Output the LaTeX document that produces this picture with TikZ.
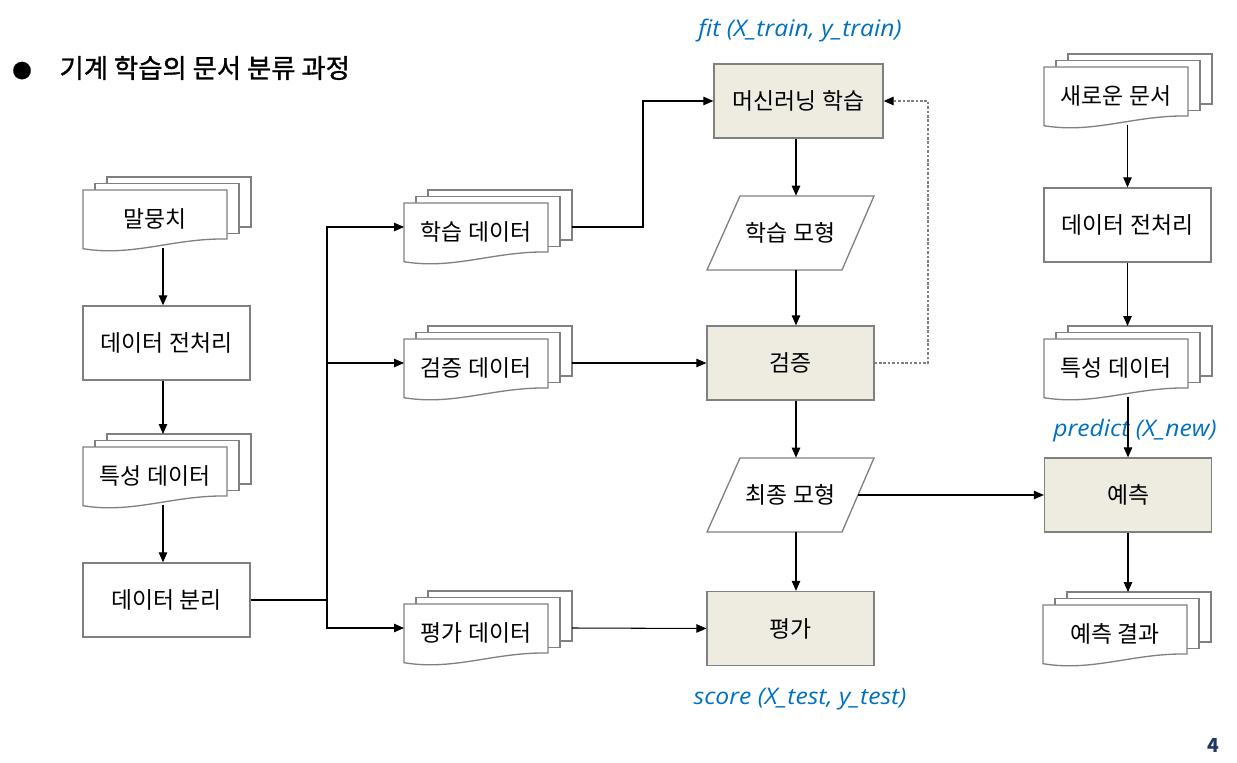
\documentclass[tikz,border=0pt]{standalone}
\usepackage{fontspec}
\setmainfont{Noto Sans CJK KR}
\newfontfamily\titlefont[FakeBold=1.2]{Noto Sans CJK KR}
\newfontfamily\codefont[FakeStretch=1.08]{Open Sans}
\usetikzlibrary{arrows.meta}

\definecolor{boxgray}{HTML}{808080}
\definecolor{boxfill}{HTML}{EEECE1}
\definecolor{codeblue}{HTML}{0070C0}
\definecolor{pagenavy}{HTML}{1F3864}

% stack of three sheets: name, x, y (centre of front sheet), text
\newcommand{\docstack}[4]{%
  \begin{scope}[shift={(#2,#3)}]
    \foreach \k in {2,1}
      \draw[sheet] (-72+12*\k,-29-6.5*\k) rectangle (72+12*\k,21-6.5*\k);
    \draw[sheet] (-72,-29) -- (72,-29) -- (72,20)
      .. controls (18,19) and (-22,38) .. (-72,29.7) -- cycle;
    \node[docnode] (#1) at (0,0) {#4};
    \coordinate (#1-in) at (-72,-5);
    \coordinate (#1-out) at (96,-5);
    \coordinate (#1-top) at (0,-42);
  \end{scope}}

% slanted box for a model: name, x, y (centre), text
\newcommand{\modelbox}[4]{%
  \begin{scope}[shift={(#2,#3)}]
    \draw[sheet] (-50.5,-37) -- (83.5,-37) -- (51.5,37) -- (-83.5,37) -- cycle;
    \node[modelnode] (#1) at (0,0) {#4};
  \end{scope}}

\begin{document}
\begin{tikzpicture}[x=0.02cm, y=-0.02cm,
    every node/.style={font=\fontsize{13}{15}\selectfont},
    arr/.style={-{Triangle[length=0.2cm,width=0.17cm]}, line width=0.6pt},
    fb/.style={-{Triangle[length=0.2cm,width=0.17cm,color=black]}, draw=boxgray,
      line width=0.6pt, dash pattern=on 1.5pt off 1pt},
    sheet/.style={draw=boxgray, fill=white, line width=0.75pt},
    docnode/.style={minimum width=2.88cm, minimum height=1.16cm, inner sep=0pt},
    modelnode/.style={minimum width=2.68cm, minimum height=1.48cm, inner sep=0pt},
    stepbox/.style={draw=boxgray, fill=white, line width=0.75pt,
      minimum width=3.34cm, minimum height=1.48cm, inner sep=0pt},
    taskbox/.style={stepbox, fill=boxfill},
    code/.style={font=\codefont\itshape\fontsize{13}{15}\selectfont, text=codeblue}]
  \useasboundingbox (0,0) rectangle (1237,763);

  \node[anchor=west, inner sep=0pt, font=\titlefont\fontsize{15}{17}\selectfont]
    (title) at (12,68) {{\fontsize{11}{13}\selectfont●}\hspace{1.06em}기계 학습의 문서 분류 과정};

  % left column
  \docstack{corpus}{155}{219}{말뭉치}
  \node[stepbox] (prep1) at (166.5,343) {데이터 전처리};
  \docstack{feat1}{155}{476}{특성 데이터}
  \node[stepbox] (split) at (166.5,600) {데이터 분리};

  % data sets
  \docstack{train}{476}{232}{학습 데이터}
  \docstack{val}{476}{368}{검증 데이터}
  \docstack{test}{476}{633}{평가 데이터}

  % model column
  \node[taskbox, minimum width=3.38cm] (mlearn) at (798.5,101) {머신러닝 학습};
  \modelbox{model}{790.5}{233}{학습 모형}
  \node[taskbox] (valid) at (790.5,363) {검증};
  \modelbox{final}{790.5}{495}{최종 모형}
  \node[taskbox] (eval) at (790.5,628.5) {평가};

  % new documents
  \docstack{newdoc}{1116}{96}{새로운 문서}
  \node[stepbox] (prep2) at (1127.5,225) {데이터 전처리};
  \docstack{feat2}{1116}{368}{특성 데이터}
  \node[taskbox] (pred) at (1128,495) {예측};
  \docstack{result}{1115}{634}{예측 결과}

  \node[code] (fitlbl) at (800,31) {fit (X\_train, y\_train)};
  \node[code] (predlbl) at (1135,431) {predict (X\_new)};
  \node[code] (scorelbl) at (800,699) {score (X\_test, y\_test)};
  \node[font=\bfseries\fontsize{11}{13}\selectfont, text=pagenavy] (page) at (1213,745) {4};

  \coordinate (spineL) at (163,0);
  \coordinate (spineM) at (796,0);
  \coordinate (fork) at (327,600);
  \coordinate (bendA) at (643,101);
  \coordinate (bendB) at (928,101);

  \draw[arr] (corpus.south -| spineL) -- (prep1.north -| spineL);
  \draw[arr] (prep1.south -| spineL) -- (feat1-top -| spineL);
  \draw[arr] (feat1.south -| spineL) -- (split.north -| spineL);
  \draw[line width=0.6pt] (split.east) -- (fork);
  \draw[arr] (fork) |- (train-in);
  \draw[arr] (fork) |- (val-in);
  \draw[arr] (fork) |- (test-in);

  \draw[arr] (train-out) -| (bendA) -- (mlearn.west);
  \draw[arr] (val-out) -- (valid.west);
  \draw[arr] (test-out) -- (eval.west);

  \draw[arr] (mlearn.south -| spineM) -- (model.north -| spineM);
  \draw[arr] (model.south -| spineM) -- (valid.north -| spineM);
  \draw[arr] (valid.south -| spineM) -- (final.north -| spineM);
  \draw[arr] (final.south -| spineM) -- (eval.north -| spineM);
  \draw[fb] (valid.east) -| (bendB) -- (mlearn.east);

  \draw[arr] (final.east) -- (pred.west);
  \draw[arr] (newdoc.south -| prep2.north) -- (prep2.north);
  \draw[arr] (prep2.south) -- (prep2.south |- feat2-top);
  \draw[arr] (feat2.south -| pred.north) -- (pred.north);
  \draw[arr] (pred.south) -- (pred.south |- result-top);
\end{tikzpicture}
\end{document}
